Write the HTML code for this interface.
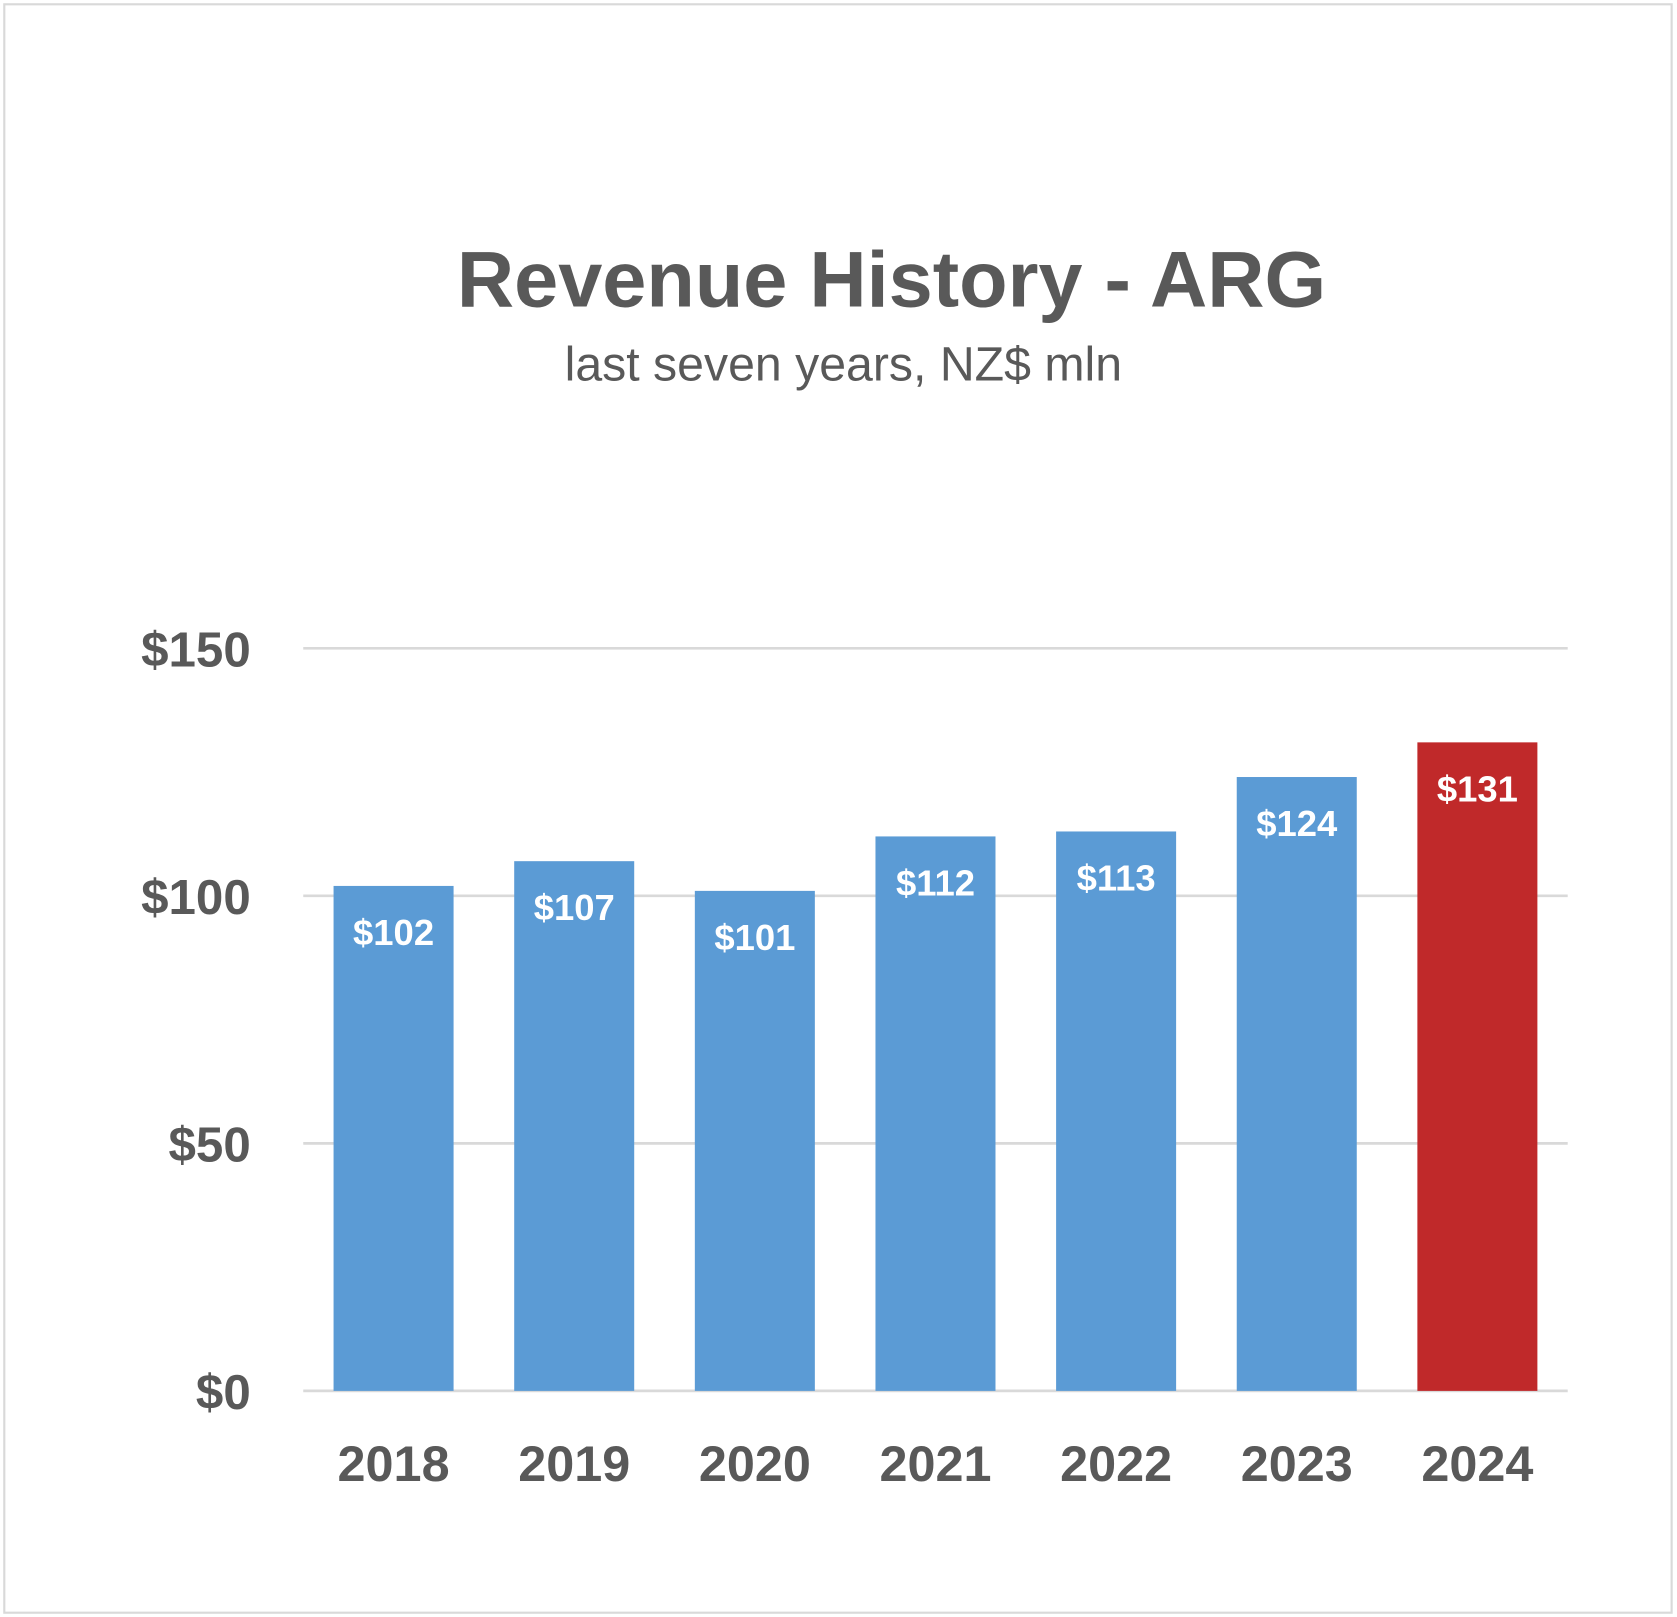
<!DOCTYPE html>
<html><head><meta charset="utf-8"><style>
html,body{margin:0;padding:0;background:#fff}
svg{display:block}
text{font-family:"Liberation Sans",sans-serif}
</style></head><body>
<svg id="chart" width="1677" height="1617" viewBox="0 0 1565 1509" xmlns="http://www.w3.org/2000/svg">
<rect x="4" y="4" width="1556" height="1501" fill="#fff" stroke="#d9d9d9" stroke-width="2"/>
<text x="832" y="286" text-anchor="middle" font-size="74" font-weight="bold" fill="#595959">Revenue History - ARG</text>
<text x="787" y="355" text-anchor="middle" font-size="45" fill="#595959">last seven years, NZ$ mln</text>
<g id="grid"></g><g id="bars"></g><g id="labels"></g>
</svg>
<script>
const categories=["2018","2019","2020","2021","2022","2023","2024"];
const revenue=[102,107,101,112,113,124,131];
const valueLabels=["$102","$107","$101","$112","$113","$124","$131"];
const yTicks=[0,50,100,150];
const yTickLabels=["$0","$50","$100","$150"];
const NS="http://www.w3.org/2000/svg";
const x0=283,x1=1463,yBase=1298,yTop=605,yMax=150;
const y=v=>yBase-(v/yMax)*(yBase-yTop);
const band=(x1-x0)/categories.length, bw=112;
const xc=i=>x0+band*(i+0.5);
function mk(tag,attrs,parent){const e=document.createElementNS(NS,tag);for(const k in attrs)e.setAttribute(k,attrs[k]);parent.appendChild(e);return e;}
const grid=document.getElementById('grid'),bars=document.getElementById('bars'),labels=document.getElementById('labels');
yTicks.forEach((t,i)=>{
 const l=mk('line',{x1:x0,x2:x1,y1:y(t),y2:y(t),stroke:'#d9d9d9','stroke-width':2.5},grid);
 
 
 const tx=mk('text',{x:234,y:y(t)+17,'text-anchor':'end','font-size':46,'font-weight':'bold',fill:'#595959'},labels);
 tx.textContent=yTickLabels[i];
 
 
});
categories.forEach((c,i)=>{
 const last=i===categories.length-1;
 const r=mk('rect',{x:xc(i)-bw/2,y:y(revenue[i]),width:bw,height:yBase-y(revenue[i]),fill:last?'#c0292a':'#5b9bd5'},bars);
 
 
 const v=mk('text',{x:xc(i),y:y(revenue[i])+55,'text-anchor':'middle','font-size':34,'font-weight':'bold',fill:'#fff'},labels);
 v.textContent=valueLabels[i];
 
 
 const xl=mk('text',{x:xc(i),y:1382,'text-anchor':'middle','font-size':47,'font-weight':'bold',fill:'#595959'},labels);
 xl.textContent=c;
 
 
});
</script>
</body></html>
